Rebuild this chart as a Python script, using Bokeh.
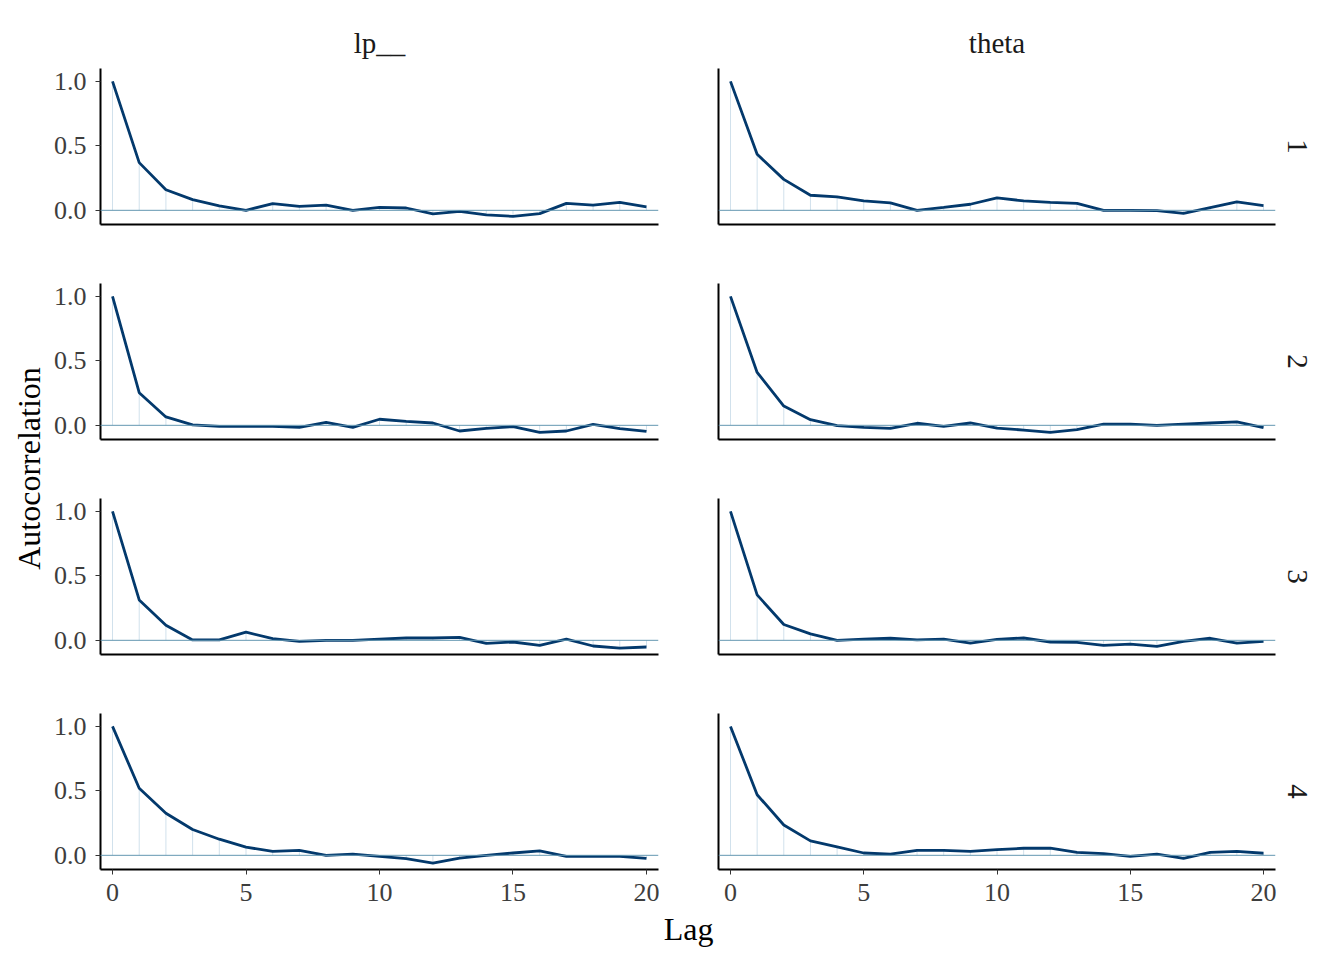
import math
from bokeh.plotting import figure
from bokeh.layouts import row, column
from bokeh.models import Span, FixedTicker, NumeralTickFormatter, Title, Range1d
from bokeh.core.properties import value
from bokeh.embed import file_html
from bokeh.resources import INLINE

# ---------------- data ----------------
lags = list(range(21))
parameters = ["lp__", "theta"]
chains = ["1", "2", "3", "4"]
x_ticks = [0, 5, 10, 15, 20]
y_ticks = [0.0, 0.5, 1.0]

lp_chain1 = [1.0, 0.37, 0.16, 0.083, 0.034, 0.0, 0.052, 0.031, 0.041, 0.0, 0.023,
             0.018, -0.028, -0.008, -0.036, -0.047, -0.026, 0.054, 0.041, 0.062, 0.026]
theta_chain1 = [1.0, 0.435, 0.24, 0.117, 0.104, 0.073, 0.057, 0.0, 0.023, 0.047, 0.096,
                0.073, 0.062, 0.054, 0.0, 0.0, -0.003, -0.023, 0.021, 0.065, 0.036]
lp_chain2 = [1.0, 0.253, 0.065, 0.003, -0.008, -0.008, -0.008, -0.016, 0.023, -0.016, 0.047,
             0.031, 0.018, -0.044, -0.023, -0.010, -0.055, -0.044, 0.008, -0.026, -0.047]
theta_chain2 = [1.0, 0.41, 0.149, 0.044, -0.003, -0.016, -0.023, 0.016, -0.008, 0.018, -0.021,
                -0.037, -0.055, -0.034, 0.010, 0.010, 0.0, 0.010, 0.018, 0.026, -0.018]
lp_chain3 = [1.0, 0.313, 0.117, 0.003, 0.003, 0.063, 0.013, -0.008, 0.0, 0.0, 0.010,
             0.018, 0.018, 0.023, -0.023, -0.013, -0.039, 0.010, -0.044, -0.060, -0.052]
theta_chain3 = [1.0, 0.352, 0.123, 0.05, 0.0, 0.010, 0.016, 0.003, 0.010, -0.021, 0.008,
                0.018, -0.013, -0.016, -0.039, -0.029, -0.047, -0.008, 0.016, -0.021, -0.008]
lp_chain4 = [1.0, 0.52, 0.326, 0.2, 0.125, 0.063, 0.031, 0.039, 0.0, 0.010, -0.008,
             -0.026, -0.060, -0.021, 0.0, 0.018, 0.034, -0.008, -0.008, -0.008, -0.023]
theta_chain4 = [1.0, 0.47, 0.235, 0.112, 0.065, 0.018, 0.010, 0.039, 0.039, 0.031, 0.044,
                0.055, 0.055, 0.023, 0.013, -0.008, 0.010, -0.023, 0.023, 0.031, 0.016]

series = {
    ("lp__", "1"): lp_chain1, ("theta", "1"): theta_chain1,
    ("lp__", "2"): lp_chain2, ("theta", "2"): theta_chain2,
    ("lp__", "3"): lp_chain3, ("theta", "3"): theta_chain3,
    ("lp__", "4"): lp_chain4, ("theta", "4"): theta_chain4,
}

# ---------------- style ----------------
FONT = "Liberation Serif"
LINE_COLOR = "#03396c"
SEG_COLOR = "#d1e1ec"
HLINE_COLOR = "#6497b1"
TICK_TEXT = "#3d3d3d"

FRAME_W_L, FRAME_W_R, FRAME_H = 558, 557, 156
X_RANGE = (-0.45, 20.45)
Y_RANGE = (-0.11, 1.1)


def panel(param, chain, ci, ri):
    first_row = ri == 0
    last_row = ri == len(chains) - 1
    left_col = ci == 0
    p = figure(
        frame_width=FRAME_W_L if left_col else FRAME_W_R,
        frame_height=FRAME_H,
        x_range=Range1d(*X_RANGE), y_range=Range1d(*Y_RANGE),
        output_backend="svg", toolbar_location=None,
        min_border_left=52 if left_col else 30,
        min_border_right=30 if left_col else 61,
        min_border_top=68 if first_row else 0,
        min_border_bottom=41 if last_row else 59,
    )
    p.outline_line_color = None
    p.grid.visible = False
    p.background_fill_color = "white"
    p.border_fill_color = "white"

    vals = series[(param, chain)]
    p.segment(x0=lags, y0=[0] * len(lags), x1=lags, y1=vals,
              line_color=SEG_COLOR, line_width=1)
    p.add_layout(Span(location=0, dimension="width", line_color=HLINE_COLOR, line_width=1))
    p.line(lags, vals, line_color=LINE_COLOR, line_width=2.8)

    for ax in (p.xaxis[0], p.yaxis[0]):
        ax.axis_line_color = "black"
        ax.axis_line_width = 2
        ax.major_tick_line_color = "#333333"
        ax.major_tick_line_width = 1
        ax.major_tick_in = 0
        ax.major_tick_out = 5
        ax.minor_tick_line_color = None
        ax.major_label_text_font = FONT
        ax.major_label_text_font_size = "26px"
        ax.major_label_text_color = TICK_TEXT

    if last_row:
        p.xaxis.ticker = FixedTicker(ticks=x_ticks)
        p.xaxis.major_label_standoff = 9
    else:
        p.xaxis.ticker = FixedTicker(ticks=[])
    if left_col:
        p.yaxis.ticker = FixedTicker(ticks=y_ticks)
        p.yaxis.formatter = NumeralTickFormatter(format="0.0")
        p.yaxis.major_label_standoff = 9
    else:
        p.yaxis.ticker = FixedTicker(ticks=[])

    if first_row:
        p.add_layout(Title(text=param, align="center", text_font=FONT,
                           text_font_size="29px", text_font_style="normal",
                           text_color="#1a1a1a", standoff=20), "above")
    if not left_col:
        p.add_layout(Title(text=chain, align="center", text_font=FONT,
                           text_font_size="29px", text_font_style="normal",
                           text_color="#1a1a1a", standoff=25), "right")
    return p


rows = []
for ri, ch in enumerate(chains):
    rows.append(row(*[panel(par, ch, ci, ri) for ci, par in enumerate(parameters)]))
grid = column(*rows)

# y axis title
ylab = figure(width=48, height=910, x_range=Range1d(0, 48), y_range=Range1d(0, 910),
              output_backend="svg", toolbar_location=None,
              min_border=0, min_border_left=0, min_border_right=0,
              min_border_top=0, min_border_bottom=0)
ylab.axis.visible = False
ylab.grid.visible = False
ylab.outline_line_color = None
ylab.text(x=[28], y=[910 - 468], text=["Autocorrelation"], angle=math.pi / 2,
          text_align="center", text_baseline="middle",
          text_font=value(FONT), text_font_size="32px", text_color="black")

# x axis title
xlab = figure(width=1336, height=40, x_range=Range1d(0, 1336), y_range=Range1d(0, 40),
              output_backend="svg", toolbar_location=None,
              min_border=0, min_border_left=0, min_border_right=0,
              min_border_top=0, min_border_bottom=0)
xlab.axis.visible = False
xlab.grid.visible = False
xlab.outline_line_color = None
xlab.text(x=[688], y=[40 - 18], text=["Lag"], text_align="center", text_baseline="middle",
          text_font=value(FONT), text_font_size="32px", text_color="black")

layout = column(row(ylab, grid), xlab)

open("out.html", "w").write(file_html(layout, INLINE))
